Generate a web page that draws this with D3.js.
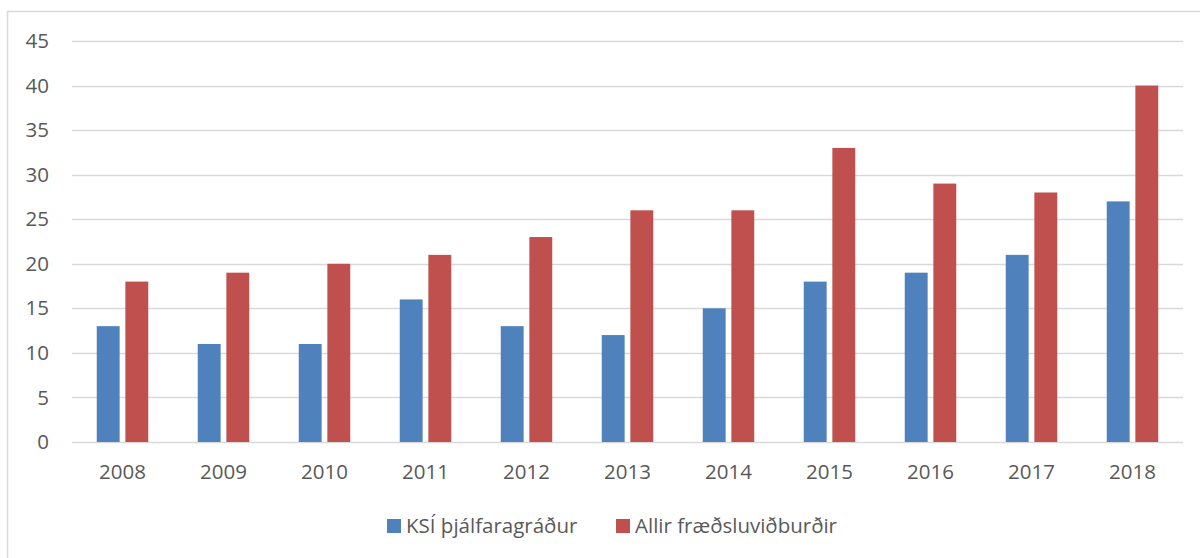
<!DOCTYPE html>
<html>
<head>
<meta charset="utf-8">
<script src="https://cdn.jsdelivr.net/npm/d3@7"></script>
<style>
  body { margin: 0; background: #fff; }
  text { font-family: "Open Sans", sans-serif; fill: #595959; }
</style>
</head>
<body>
<div id="chart"></div>
<script>
var years = ["2008", "2009", "2010", "2011", "2012", "2013", "2014", "2015", "2016", "2017", "2018"];
var seriesNames = ["KSÍ þjálfaragráður", "Allir fræðsluviðburðir"];
var ksiValues = [13, 11, 11, 16, 13, 12, 15, 18, 19, 21, 27];
var allValues = [18, 19, 20, 21, 23, 26, 26, 33, 29, 28, 40];
var yTicks = [0, 5, 10, 15, 20, 25, 30, 35, 40, 45];
var colors = ["#4f81bd", "#c0504d"];

var W = 1200, H = 558;
var margin = {top: 41, right: 17, bottom: 116, left: 72};
var width = W - margin.left - margin.right,
    height = H - margin.top - margin.bottom;

var svg = d3.select("#chart").append("svg")
    .attr("width", W).attr("height", H);

// outer frame
svg.append("rect")
    .attr("x", 7.5).attr("y", 11.5)
    .attr("width", W + 10).attr("height", H + 10)
    .attr("fill", "none").attr("stroke", "#d9d9d9").attr("stroke-width", 1.5);

var g = svg.append("g").attr("transform", "translate(" + margin.left + "," + margin.top + ")");

var x0 = d3.scaleBand().domain(years).range([0, width]).paddingInner(0.49).paddingOuter(0.245);
var x1 = d3.scaleBand().domain([0, 1]).range([0, x0.bandwidth()]).paddingInner(0.2);
var y = d3.scaleLinear().domain([0, 45]).range([height, 0]);

// gridlines
g.selectAll(".grid").data(yTicks).enter().append("line")
    .attr("x1", 0).attr("x2", width)
    .attr("y1", function(d){ return Math.round(y(d)) + 0.5; })
    .attr("y2", function(d){ return Math.round(y(d)) + 0.5; })
    .attr("stroke", "#d9d9d9").attr("stroke-width", 1.5);

var yAxis = d3.axisLeft(y).tickValues(yTicks).tickSize(0).tickPadding(23);
g.append("g").call(yAxis)
  .call(function(s){ s.select(".domain").remove(); })
  .selectAll("text").style("font-size", "20.5px").attr("fill", "#595959");

var xAxis = d3.axisBottom(x0).tickSize(0).tickPadding(22);
g.append("g").attr("transform", "translate(0," + height + ")").call(xAxis)
  .call(function(s){ s.select(".domain").remove(); })
  .selectAll("text").style("font-size", "20.5px").attr("fill", "#595959");

var data = years.map(function(yr, i){ return {year: yr, vals: [ksiValues[i], allValues[i]]}; });

var groups = g.selectAll(".yr").data(data).enter().append("g")
    .attr("transform", function(d){ return "translate(" + x0(d.year) + ",0)"; });

groups.selectAll("rect").data(function(d){ return d.vals; }).enter().append("rect")
    .attr("x", function(d, i){ return x1(i); })
    .attr("y", function(d){ return y(d); })
    .attr("width", x1.bandwidth())
    .attr("height", function(d){ return height - y(d); })
    .attr("fill", function(d, i){ return colors[i]; });

// legend
var legendX = [387, 616];
var legend = svg.selectAll(".leg").data(seriesNames).enter().append("g")
    .attr("transform", function(d, i){ return "translate(" + legendX[i] + ",519)"; });
legend.append("rect").attr("width", 14).attr("height", 14)
    .attr("fill", function(d, i){ return colors[i]; });
legend.append("text").attr("x", 19).attr("y", 7).attr("dy", "0.35em")
    .style("font-size", "20.5px").text(function(d){ return d; });
</script>
</body>
</html>
